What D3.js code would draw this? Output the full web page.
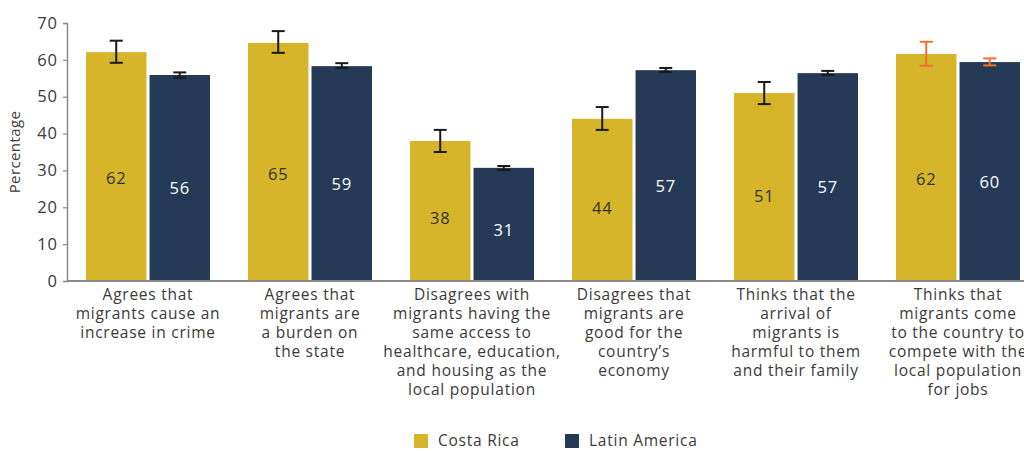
<!DOCTYPE html>
<html>
<head>
<meta charset="utf-8">
<script src="https://cdn.jsdelivr.net/npm/d3@7"></script>
<style>
  html, body { margin: 0; padding: 0; background: #fff; }
  svg { display: block; font-family: "Open Sans", "Lato", sans-serif; }
</style>
</head>
<body>
<svg id="chart" width="1024" height="451"></svg>
<script>
const categories = [
  "Agrees that\nmigrants cause an\nincrease in crime",
  "Agrees that\nmigrants are\na burden on\nthe state",
  "Disagrees with\nmigrants having the\nsame access to\nhealthcare, education,\nand housing as the\nlocal population",
  "Disagrees that\nmigrants are\ngood for the\ncountry’s\neconomy",
  "Thinks that the\narrival of\nmigrants is\nharmful to them\nand their family",
  "Thinks that\nmigrants come\nto the country to\ncompete with the\nlocal population\nfor jobs"
];
const seriesNames = ["Costa Rica", "Latin America"];
const costaRica = [62.1, 64.6, 38.0, 44.0, 51.0, 61.6];
const costaRicaLow = [59.2, 61.9, 35.0, 41.0, 48.0, 58.4];
const costaRicaHigh = [65.2, 67.8, 41.0, 47.2, 54.0, 64.9];
const latinAmerica = [55.9, 58.3, 30.7, 57.2, 56.4, 59.4];
const latinAmericaLow = [55.2, 57.8, 30.1, 56.7, 55.9, 58.5];
const latinAmericaHigh = [56.6, 59.1, 31.2, 57.8, 57.0, 60.4];
const costaRicaLabels = ["62", "65", "38", "44", "51", "62"];
const latinAmericaLabels = ["56", "59", "31", "57", "57", "60"];
const yTicks = [0, 10, 20, 30, 40, 50, 60, 70];

const colors = ["#D6B52A", "#253A56"];
const labelColors = ["#333333", "#ffffff"];
const errColors = categories.map((c, i) => i === categories.length - 1 ? "#F07030" : "#1a1a1a");
const textColor = "#3a3a3a";
const ls = "0.75px";

const svg = d3.select("#chart");
const mLeft = 67, mTop = 23, mBottom = 281;
const step = 162;

const x0 = d3.scaleBand().domain(categories.map((d, i) => i))
  .range([mLeft, mLeft + step * categories.length]).paddingInner(0).paddingOuter(0);
const x1 = d3.scaleBand().domain([0, 1]).range([19, step - 19]).paddingInner(6 / 124).paddingOuter(0);
const y = d3.scaleLinear().domain([0, 70]).range([mBottom, mTop]);

const series = [
  { vals: costaRica, lo: costaRicaLow, hi: costaRicaHigh, labels: costaRicaLabels },
  { vals: latinAmerica, lo: latinAmericaLow, hi: latinAmericaHigh, labels: latinAmericaLabels }
];

// Y axis
const yAxis = d3.axisLeft(y).tickValues(yTicks).tickSize(4).tickPadding(5).tickFormat(d3.format("d"));
const gy = svg.append("g").attr("transform", `translate(${mLeft},0)`).call(yAxis);
gy.select(".domain").attr("stroke", "#8a8a8a").attr("stroke-width", 1.5);
gy.selectAll(".tick line").attr("stroke", "#8a8a8a").attr("stroke-width", 1.2);
gy.selectAll(".tick text").attr("fill", textColor).attr("font-size", 16.5)
  .attr("font-family", "'Open Sans', sans-serif").attr("letter-spacing", "1px");

svg.append("text")
  .attr("transform", `translate(20,${(mTop + mBottom) / 2}) rotate(-90)`)
  .attr("text-anchor", "middle")
  .attr("fill", textColor).attr("font-size", 15).attr("letter-spacing", "0.4px")
  .text("Percentage");

// Bars
const groups = svg.append("g").selectAll("g").data(categories).join("g")
  .attr("transform", (d, i) => `translate(${x0(i)},0)`);

series.forEach((s, si) => {
  groups.append("rect")
    .attr("x", x1(si)).attr("width", x1.bandwidth())
    .attr("y", (d, i) => y(s.vals[i]))
    .attr("height", (d, i) => y(0) - y(s.vals[i]))
    .attr("fill", colors[si]);
  groups.append("text")
    .attr("x", x1(si) + x1.bandwidth() / 2)
    .attr("y", (d, i) => y(s.vals[i] * 0.45))
    .attr("dy", "0.35em")
    .attr("text-anchor", "middle")
    .attr("font-size", 16.5).attr("letter-spacing", ls)
    .attr("fill", labelColors[si])
    .text((d, i) => s.labels[i]);
  // error bars
  const cx = x1(si) + x1.bandwidth() / 2;
  groups.append("line")
    .attr("x1", cx).attr("x2", cx)
    .attr("y1", (d, i) => y(s.hi[i])).attr("y2", (d, i) => y(s.lo[i]))
    .attr("stroke", (d, i) => errColors[i]).attr("stroke-width", 2);
  groups.append("line")
    .attr("x1", cx - 6.5).attr("x2", cx + 6.5)
    .attr("y1", (d, i) => y(s.hi[i])).attr("y2", (d, i) => y(s.hi[i]))
    .attr("stroke", (d, i) => errColors[i]).attr("stroke-width", 2);
  groups.append("line")
    .attr("x1", cx - 6.5).attr("x2", cx + 6.5)
    .attr("y1", (d, i) => y(s.lo[i])).attr("y2", (d, i) => y(s.lo[i]))
    .attr("stroke", (d, i) => errColors[i]).attr("stroke-width", 2);
});

// X axis line
svg.append("line").attr("x1", mLeft).attr("x2", 1024).attr("y1", mBottom).attr("y2", mBottom)
  .attr("stroke", "#8a8a8a").attr("stroke-width", 2);

// Category labels
groups.append("text")
  .attr("x", step / 2).attr("y", 300)
  .attr("text-anchor", "middle")
  .attr("font-size", 15.5).attr("fill", textColor).attr("letter-spacing", ls)
  .each(function(d) {
    const t = d3.select(this);
    d.split("\n").forEach((line, k) => {
      t.append("tspan").attr("x", step / 2).attr("dy", k === 0 ? 0 : 19).text(line);
    });
  });

// Legend
const legendItems = [{ x: 414 }, { x: 565 }];
legendItems.forEach((it, i) => {
  svg.append("rect").attr("x", it.x).attr("y", 434).attr("width", 14).attr("height", 14).attr("fill", colors[i]);
  svg.append("text").attr("x", it.x + 24).attr("y", 441).attr("dy", "0.35em")
    .attr("font-size", 15.5).attr("fill", textColor).attr("letter-spacing", ls).text(seriesNames[i]);
});
</script>
</body>
</html>
